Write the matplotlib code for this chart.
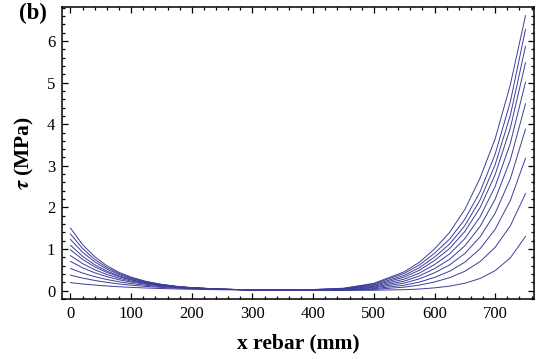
import matplotlib.pyplot as plt
from matplotlib.ticker import MultipleLocator

# position along the rebar (mm)
x_mm = [0, 20, 40, 60, 80, 100, 125, 150, 175, 200, 250, 300, 375,
        450, 500, 550, 575, 600, 625, 650, 675, 700, 725, 750]

# bond stress (MPa) for each load step, lowest to highest
tau_1 = [0.19, 0.158, 0.132, 0.110, 0.092, 0.077, 0.061, 0.049, 0.039, 0.031, 0.020, 0.012, 0.005,
         0.004, 0.008, 0.021, 0.037, 0.065, 0.107, 0.176, 0.290, 0.478, 0.788, 1.30]
tau_2 = [0.37, 0.300, 0.243, 0.197, 0.159, 0.129, 0.099, 0.076, 0.058, 0.045, 0.027, 0.016, 0.006,
         0.008, 0.027, 0.082, 0.131, 0.207, 0.310, 0.464, 0.695, 1.040, 1.556, 2.33]
tau_3 = [0.53, 0.421, 0.334, 0.266, 0.211, 0.168, 0.126, 0.094, 0.071, 0.053, 0.030, 0.017, 0.006,
         0.012, 0.044, 0.129, 0.204, 0.316, 0.465, 0.683, 1.003, 1.474, 2.165, 3.18]
tau_4 = [0.70, 0.547, 0.427, 0.334, 0.260, 0.204, 0.150, 0.110, 0.081, 0.059, 0.032, 0.017, 0.007,
         0.019, 0.064, 0.180, 0.281, 0.427, 0.617, 0.892, 1.288, 1.860, 2.687, 3.88]
tau_5 = [0.84, 0.648, 0.500, 0.386, 0.297, 0.229, 0.165, 0.120, 0.087, 0.063, 0.033, 0.017, 0.007,
         0.025, 0.082, 0.227, 0.351, 0.527, 0.753, 1.076, 1.538, 2.198, 3.142, 4.49]
tau_6 = [0.98, 0.748, 0.570, 0.435, 0.332, 0.254, 0.181, 0.129, 0.092, 0.066, 0.033, 0.017, 0.008,
         0.031, 0.101, 0.275, 0.419, 0.624, 0.883, 1.249, 1.768, 2.502, 3.540, 5.01]
tau_7 = [1.09, 0.823, 0.620, 0.469, 0.353, 0.267, 0.187, 0.132, 0.093, 0.065, 0.032, 0.016, 0.008,
         0.038, 0.122, 0.323, 0.489, 0.722, 1.012, 1.419, 1.989, 2.788, 3.909, 5.48]
tau_8 = [1.23, 0.920, 0.689, 0.515, 0.386, 0.289, 0.200, 0.140, 0.097, 0.068, 0.033, 0.016, 0.009,
         0.044, 0.139, 0.365, 0.549, 0.805, 1.121, 1.561, 2.174, 3.028, 4.215, 5.87]
tau_9 = [1.36, 1.009, 0.748, 0.555, 0.412, 0.306, 0.211, 0.146, 0.100, 0.069, 0.033, 0.016, 0.009,
         0.051, 0.159, 0.412, 0.615, 0.896, 1.239, 1.714, 2.371, 3.281, 4.539, 6.28]
tau_10 = [1.50, 1.103, 0.812, 0.596, 0.438, 0.323, 0.219, 0.149, 0.102, 0.069, 0.032, 0.015, 0.010,
          0.056, 0.174, 0.450, 0.680, 1.000, 1.400, 1.950, 2.700, 3.650, 4.950, 6.61]

curves = [tau_1, tau_2, tau_3, tau_4, tau_5, tau_6, tau_7, tau_8, tau_9, tau_10]

plt.rcParams['font.family'] = ['Liberation Serif', 'DejaVu Serif']
plt.rcParams['mathtext.fontset'] = 'stix'

fig = plt.figure(figsize=(5.4, 3.59), dpi=100)
ax = fig.add_axes([62.3 / 540, 1 - 299.3 / 359, (534 - 62.3) / 540, (299.3 - 7.3) / 359])

for tau in curves:
    ax.plot(x_mm, tau, color='#3d3d99', lw=0.7)

ax.set_xlim(-13.5, 764)
ax.set_ylim(-0.21, 6.81)

ax.xaxis.set_major_locator(MultipleLocator(100))
ax.xaxis.set_minor_locator(MultipleLocator(20))
ax.yaxis.set_major_locator(MultipleLocator(1))
ax.yaxis.set_minor_locator(MultipleLocator(0.2))
ax.tick_params(which='both', direction='in', top=True, right=True, width=0.9, color='black')
ax.tick_params(which='major', length=4.5, labelsize=12, pad=5)
ax.tick_params(which='minor', length=2.5)
for sp in ax.spines.values():
    sp.set_linewidth(1.1)

ax.set_xlabel('x rebar (mm)', fontsize=15.5, fontweight='bold', labelpad=8)
ax.set_ylabel(r'$\boldsymbol{\tau}$ (MPa)', fontsize=15.5, fontweight='bold', labelpad=8)
fig.text(19 / 540, 1 - 3 / 359, '(b)', fontsize=16.5, fontweight='bold', va='top', ha='left')

fig.savefig('out.png', dpi=100)
